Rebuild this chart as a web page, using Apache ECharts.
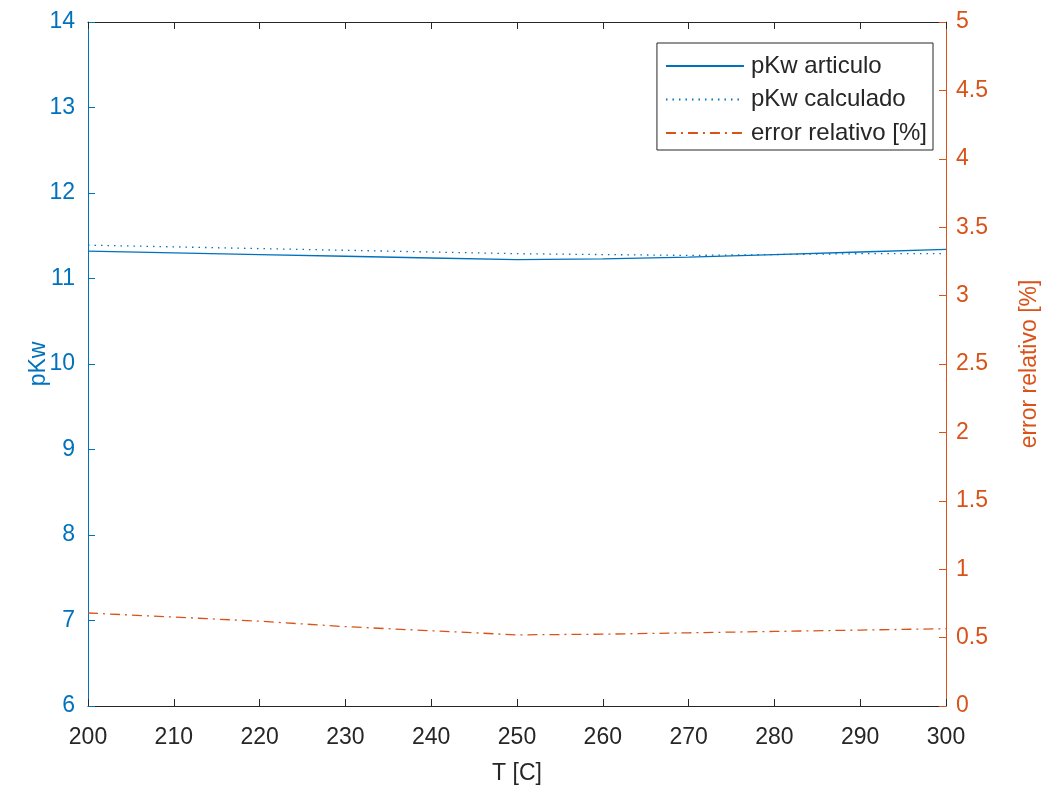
<!DOCTYPE html>
<html>
<head>
<meta charset="utf-8">
<script src="https://cdn.jsdelivr.net/npm/echarts@6/dist/echarts.min.js"></script>
<style>
html,body{margin:0;padding:0;background:#fff;}
#chart{width:1049px;height:791px;}
</style>
</head>
<body>
<div id="chart"></div>
<script>
var temperatures = [200, 210, 220, 230, 240, 250, 260, 270, 280, 290, 300];
var pKwArticulo = [11.32, 11.30, 11.28, 11.26, 11.24, 11.22, 11.23, 11.25, 11.28, 11.31, 11.34];
var pKwCalculado = [11.39, 11.37, 11.35, 11.33, 11.31, 11.29, 11.28, 11.27, 11.28, 11.29, 11.29];
var errorRelativo = [0.68, 0.65, 0.62, 0.58, 0.55, 0.52, 0.525, 0.535, 0.545, 0.555, 0.565];
var seriesNames = ['pKw articulo', 'pKw calculado', 'error relativo [%]'];

var BLUE = '#0072BD';
var ORANGE = '#D95319';
var FONT = 'Liberation Sans, Arial, Helvetica, sans-serif';
var FS = 23;

function pairs(ys) { return temperatures.map(function (t, i) { return [t, ys[i]]; }); }

var chart = echarts.init(document.getElementById('chart'));
chart.setOption({
  animation: false,
  backgroundColor: '#fff',
  textStyle: { fontFamily: FONT },
  grid: { left: 88, right: 103, top: 22, bottom: 85 },
  legend: {
    orient: 'vertical',
    right: 116,
    top: 43,
    padding: [11, 6, 5, 8],
    itemWidth: 78,
    itemHeight: 14,
    itemGap: 9.5,
    backgroundColor: '#fff',
    borderColor: '#262626',
    borderWidth: 1,
    borderRadius: 0,
    itemStyle: { opacity: 0 },
    textStyle: { fontSize: 24, color: '#262626', fontFamily: FONT, padding: [0, 0, 0, 2] },
    data: seriesNames
  },
  xAxis: [{
    type: 'value', min: 200, max: 300, interval: 10, position: 'bottom',
    name: 'T [C]', nameLocation: 'middle', nameGap: 56,
    nameTextStyle: { fontSize: FS, color: '#262626', fontFamily: FONT },
    axisLine: { lineStyle: { color: '#262626', width: 1 } },
    axisTick: { inside: true, length: 7, lineStyle: { color: '#262626' } },
    axisLabel: { fontSize: FS, color: '#262626', margin: 20, fontFamily: FONT },
    splitLine: { show: false }
  }, {
    type: 'value', min: 200, max: 300, interval: 10, position: 'top',
    axisLine: { lineStyle: { color: '#262626', width: 1 } },
    axisTick: { inside: true, length: 7, lineStyle: { color: '#262626' } },
    axisLabel: { show: false },
    splitLine: { show: false }
  }],
  yAxis: [{
    type: 'value', min: 6, max: 14, interval: 1, position: 'left',
    name: 'pKw', nameLocation: 'middle', nameGap: 38, nameRotate: 90, nameMoveOverlap: false,
    nameTextStyle: { fontSize: FS, color: BLUE, fontFamily: FONT },
    axisLine: { show: true, lineStyle: { color: BLUE, width: 1 } },
    axisTick: { show: true, inside: true, length: 7, lineStyle: { color: BLUE } },
    axisLabel: { fontSize: FS, color: BLUE, margin: 13, fontFamily: FONT },
    splitLine: { show: false }
  }, {
    type: 'value', min: 0, max: 5, interval: 0.5, position: 'right',
    name: 'error relativo [%]', nameLocation: 'middle', nameGap: 72, nameRotate: 90,
    nameTextStyle: { fontSize: FS, color: ORANGE, fontFamily: FONT },
    axisLine: { show: true, lineStyle: { color: ORANGE, width: 1 } },
    axisTick: { show: true, inside: true, length: 7, lineStyle: { color: ORANGE } },
    axisLabel: { fontSize: FS, color: ORANGE, margin: 10, fontFamily: FONT },
    splitLine: { show: false }
  }],
  series: [{
    name: seriesNames[0], type: 'line', xAxisIndex: 0, yAxisIndex: 0,
    data: pairs(pKwArticulo), showSymbol: false, symbol: 'none',
    lineStyle: { color: BLUE, width: 1.3, type: 'solid' }, itemStyle: { color: BLUE }
  }, {
    name: seriesNames[1], type: 'line', xAxisIndex: 0, yAxisIndex: 0,
    data: pairs(pKwCalculado), showSymbol: false, symbol: 'none',
    lineStyle: { color: BLUE, width: 1.3, type: [1.5, 5] }, itemStyle: { color: BLUE }
  }, {
    name: seriesNames[2], type: 'line', xAxisIndex: 0, yAxisIndex: 1,
    data: pairs(errorRelativo), showSymbol: false, symbol: 'none',
    lineStyle: { color: ORANGE, width: 1.3, type: [10, 5, 2, 5] }, itemStyle: { color: ORANGE }
  }]
});
</script>
</body>
</html>
